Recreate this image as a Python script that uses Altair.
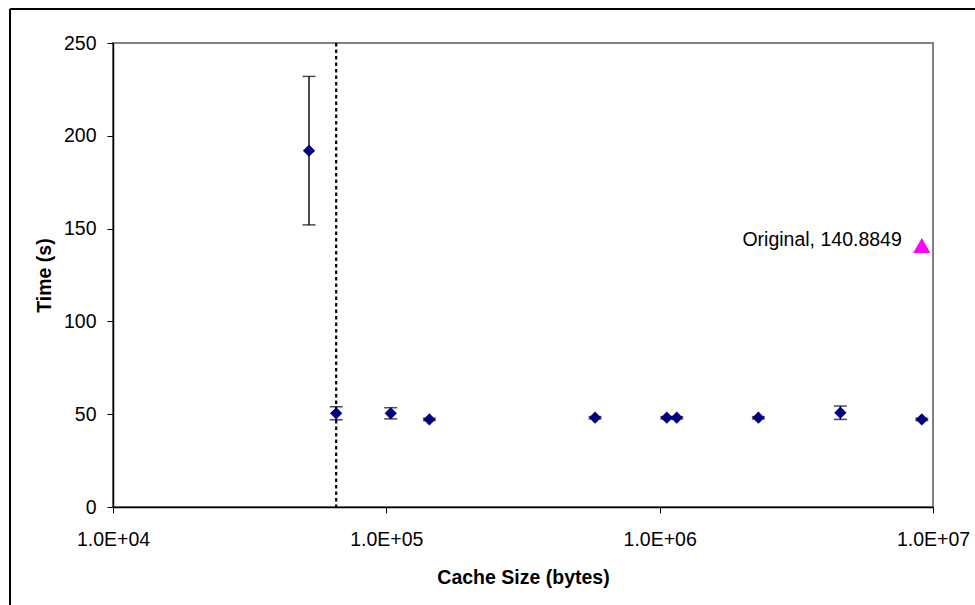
import altair as alt
import pandas as pd

# Measured run times (mean and spread) for each cache size
cache_bytes = [52130, 65536, 103770, 143700, 580300, 1061700, 1154500, 2297000, 4583000, 9098000]
time_mean = [192.0, 50.5, 50.5, 47.2, 48.1, 48.1, 48.1, 48.1, 50.8, 47.2]
time_err = [40.0, 3.5, 3.0, 0.6, 0.6, 0.6, 0.6, 0.6, 3.6, 0.6]

# Reference run of the unmodified program
original_name = "Original"
original_bytes = [9100000]
original_time = [140.8849]

# Cache size marked by the dotted boundary line
boundary_bytes = [65536]

x_ticks = [1e4, 1e5, 1e6, 1e7]
y_ticks = [0, 50, 100, 150, 200, 250]

W, H = 820, 464
FONT = "Liberation Sans"
FS = 19.5

runs = pd.DataFrame({
    "bytes": cache_bytes,
    "time": time_mean,
    "lo": [m - e for m, e in zip(time_mean, time_err)],
    "hi": [m + e for m, e in zip(time_mean, time_err)],
})
orig = pd.DataFrame({
    "bytes": original_bytes,
    "time": original_time,
    "label": [f"{original_name}, {t}" for t in original_time],
})
bound = pd.DataFrame({"bytes": boundary_bytes})
one = pd.DataFrame({"k": [0]})

x_scale = alt.Scale(type="log", domain=[1e4, 1e7], nice=False)
y_scale = alt.Scale(domain=[0, 250], nice=False)

x_axis = alt.Axis(
    values=x_ticks,
    labelExpr="'1.0E+0' + round(log(datum.value) / LN10)",
    grid=False,
    tickSize=6,
    tickColor="black",
    domainColor="black",
    domainWidth=1.5,
    labelPadding=17,
    labelFontSize=FS,
    labelColor="black",
    labelFont=FONT,
    labelFlush=False,
    title="Cache Size (bytes)",
    titleFont=FONT,
    titleFontSize=FS,
    titleFontWeight="bold",
    titleColor="black",
    titleX=W / 2,
    titleY=70,
    titleAlign="center",
    titleBaseline="middle",
    zindex=1,
)
y_axis = alt.Axis(
    values=y_ticks,
    grid=False,
    tickSize=6,
    tickColor="black",
    domainColor="black",
    domainWidth=1.5,
    labelPadding=11,
    labelFontSize=FS,
    labelColor="black",
    labelFont=FONT,
    labelFlush=False,
    title="Time (s)",
    titleFont=FONT,
    titleFontSize=FS,
    titleFontWeight="bold",
    titleColor="black",
    titleAngle=270,
    titleX=-69,
    titleY=H / 2,
    titleAlign="center",
    titleBaseline="middle",
    zindex=1,
)

# Outer chart frame (top and left edges)
frame_top = alt.Chart(one).mark_rule(color="black", strokeWidth=2).encode(
    x=alt.value(-103), x2=alt.value(W + 100), y=alt.value(-34)
)
frame_left = alt.Chart(one).mark_rule(color="black", strokeWidth=2).encode(
    x=alt.value(-103), y=alt.value(-34), y2=alt.value(H + 150)
)

boundary = alt.Chart(bound).mark_rule(
    color="black", strokeWidth=2.2, strokeDash=[3.5, 3]
).encode(
    x=alt.X("bytes:Q", scale=x_scale, axis=x_axis)
)

err_rule = alt.Chart(runs).mark_rule(color="black", strokeWidth=1.4).encode(
    x=alt.X("bytes:Q", scale=x_scale),
    y=alt.Y("lo:Q", scale=y_scale, axis=y_axis),
    y2="hi:Q",
)

err_caps = alt.Chart(runs).transform_fold(["lo", "hi"], as_=["end", "v"]).mark_tick(
    orient="horizontal", color="black", size=13, thickness=1.5
).encode(
    x=alt.X("bytes:Q", scale=x_scale),
    y=alt.Y("v:Q", scale=y_scale),
)

points = alt.Chart(runs).mark_point(
    shape="diamond", filled=True, color="#000080", size=150, opacity=1
).encode(
    x=alt.X("bytes:Q", scale=x_scale),
    y=alt.Y("time:Q", scale=y_scale),
)

orig_point = alt.Chart(orig).mark_point(
    shape="triangle-up", filled=True, color="#FF00FF", size=300, opacity=1
).encode(
    x=alt.X("bytes:Q", scale=x_scale),
    y=alt.Y("time:Q", scale=y_scale),
)

orig_label = alt.Chart(orig).mark_text(
    align="right", baseline="middle", dx=-20, dy=-6,
    font=FONT, fontSize=FS, color="black"
).encode(
    x=alt.X("bytes:Q", scale=x_scale),
    y=alt.Y("time:Q", scale=y_scale),
    text="label:N",
)

chart = alt.layer(
    frame_top, frame_left, boundary, err_rule, err_caps, points, orig_point, orig_label
).properties(
    width=W,
    height=H,
    autosize=alt.AutoSizeParams(type="none"),
    padding={"left": 113, "top": 43, "right": 42, "bottom": 98},
    background="white",
).configure_view(
    stroke="#808080", strokeWidth=2
)

chart.save("out.html", embed_options={"renderer": "svg", "actions": False})
